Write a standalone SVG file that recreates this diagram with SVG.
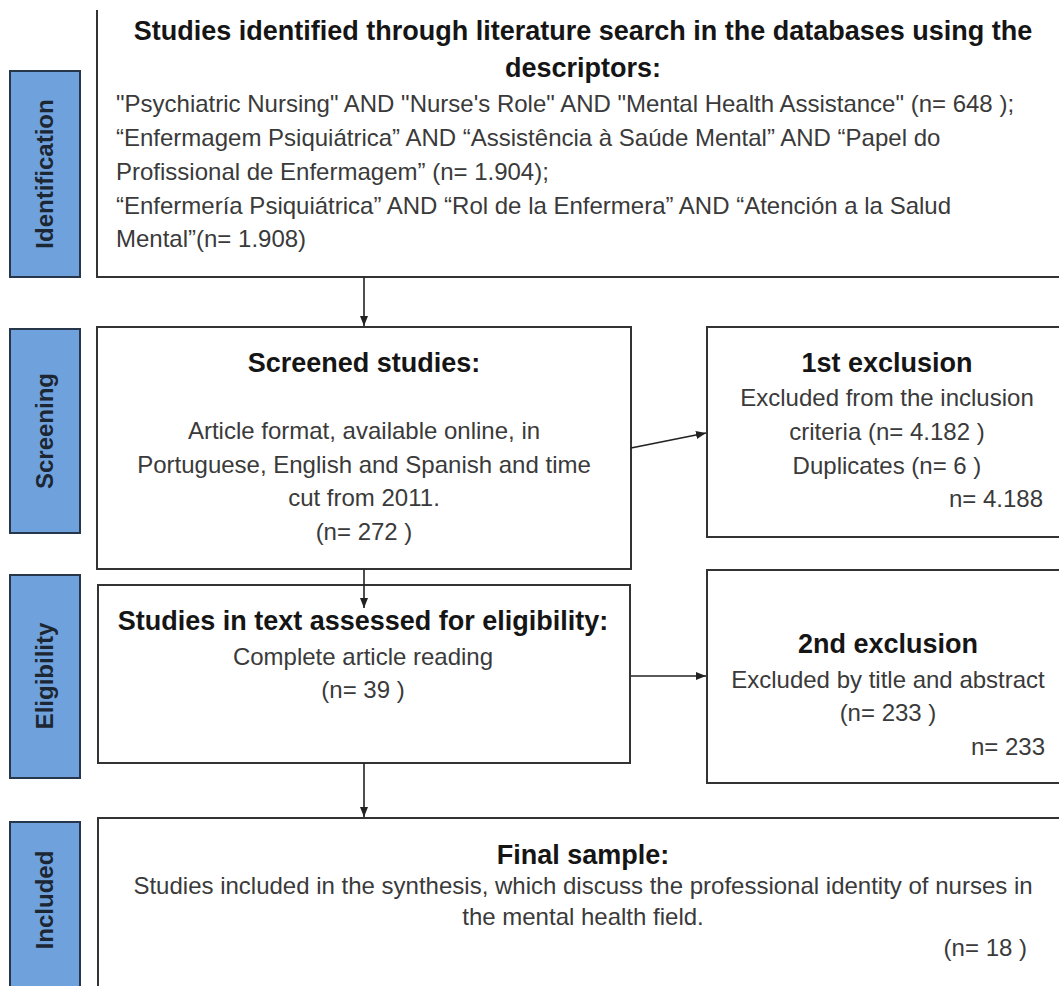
<svg xmlns="http://www.w3.org/2000/svg" width="1059" height="986" viewBox="0 0 1059 986">
<style>
.box{fill:#fff;stroke:#333;stroke-width:2}
.lab{fill:#6fa2dd;stroke:#27364a;stroke-width:2}
.labt{font-family:"Liberation Sans",Arial,sans-serif;font-weight:bold;font-size:24px;fill:#1d2633;text-anchor:middle}
.h{font-family:"Liberation Sans",Arial,sans-serif;font-weight:bold;font-size:27px;fill:#151515}
.t{font-family:"Liberation Sans",Arial,sans-serif;font-size:24px;fill:#3a3a3a}
.c{text-anchor:middle}
.r{text-anchor:end}
.con{stroke:#222;stroke-width:1.6;fill:none;marker-end:url(#ah)}
</style>
<defs>
<marker id="ah" viewBox="0 0 10 8" refX="10" refY="4" markerWidth="10" markerHeight="8" markerUnits="userSpaceOnUse" orient="auto">
<path d="M0,0 L10,4 L0,8 z" fill="#222"/>
</marker>
</defs>
<rect width="1059" height="986" fill="#fff"/>

<g id="label-identification">
<rect class="lab" x="10" y="71" width="70" height="206"/>
<text class="labt" transform="translate(53,174) rotate(-90)">Identification</text>
</g>
<g id="label-screening">
<rect class="lab" x="10" y="329" width="70" height="204"/>
<text class="labt" transform="translate(53,431) rotate(-90)">Screening</text>
</g>
<g id="label-eligibility">
<rect class="lab" x="10" y="575" width="70" height="203"/>
<text class="labt" transform="translate(53,676) rotate(-90)">Eligibility</text>
</g>
<g id="label-included">
<rect class="lab" x="10" y="822" width="70" height="180"/>
<text class="labt" transform="translate(53,900) rotate(-90)">Included</text>
</g>

<g id="identified">
<path d="M97,10 V277 H1062" fill="none" stroke="#333" stroke-width="2"/>
<text class="h c" x="583" y="40">Studies identified through literature search in the databases using the</text>
<text class="h c" x="583" y="77">descriptors:</text>
<text class="t" x="116" y="112">"Psychiatric Nursing" AND "Nurse's Role" AND "Mental Health Assistance" (n= 648 );</text>
<text class="t" x="116" y="146">“Enfermagem Psiquiátrica” AND “Assistência à Saúde Mental” AND “Papel do</text>
<text class="t" x="116" y="180">Profissional de Enfermagem” (n= 1.904);</text>
<text class="t" x="116" y="214">“Enfermería Psiquiátrica” AND “Rol de la Enfermera” AND “Atención a la Salud</text>
<text class="t" x="116" y="247">Mental”(n= 1.908)</text>
</g>

<g id="screened">
<rect class="box" x="97" y="327" width="534" height="242"/>
<text class="h c" x="364" y="372">Screened studies:</text>
<text class="t c" x="364" y="439">Article format, available online, in</text>
<text class="t c" x="364" y="473">Portuguese, English and Spanish and time</text>
<text class="t c" x="364" y="506">cut from 2011.</text>
<text class="t c" x="364" y="540">(n= 272 )</text>
</g>

<g id="exclusion1">
<rect class="box" x="707" y="327" width="364" height="210"/>
<text class="h c" x="887" y="372">1st exclusion</text>
<text class="t c" x="887" y="406">Excluded from the inclusion</text>
<text class="t c" x="887" y="440">criteria (n= 4.182 )</text>
<text class="t c" x="887" y="474">Duplicates (n= 6 )</text>
<text class="t r" x="1043" y="507">n= 4.188</text>
</g>

<g id="eligibility">
<rect class="box" x="98" y="585" width="532" height="178"/>
<text class="h c" x="363" y="630">Studies in text assessed for eligibility:</text>
<text class="t c" x="363" y="665">Complete article reading</text>
<text class="t c" x="363" y="698">(n= 39 )</text>
</g>

<g id="exclusion2">
<rect class="box" x="707" y="570" width="364" height="213"/>
<text class="h c" x="888" y="653">2nd exclusion</text>
<text class="t c" x="888" y="688">Excluded by title and abstract</text>
<text class="t c" x="888" y="721">(n= 233 )</text>
<text class="t r" x="1045" y="755">n= 233</text>
</g>

<g id="final">
<rect class="box" x="98" y="818" width="975" height="190"/>
<text class="h c" x="583" y="864">Final sample:</text>
<text class="t c" x="583" y="894">Studies included in the synthesis, which discuss the professional identity of nurses in</text>
<text class="t c" x="583" y="925">the mental health field.</text>
<text class="t r" x="1027" y="956">(n= 18 )</text>
</g>

<g id="connectors">
<path class="con" d="M364,277 V326"/>
<path class="con" d="M631,448 L706,433"/>
<path class="con" d="M364,569 V608"/>
<path class="con" d="M631,676 H706"/>
<path class="con" d="M364,763 V817"/>
</g>
</svg>
